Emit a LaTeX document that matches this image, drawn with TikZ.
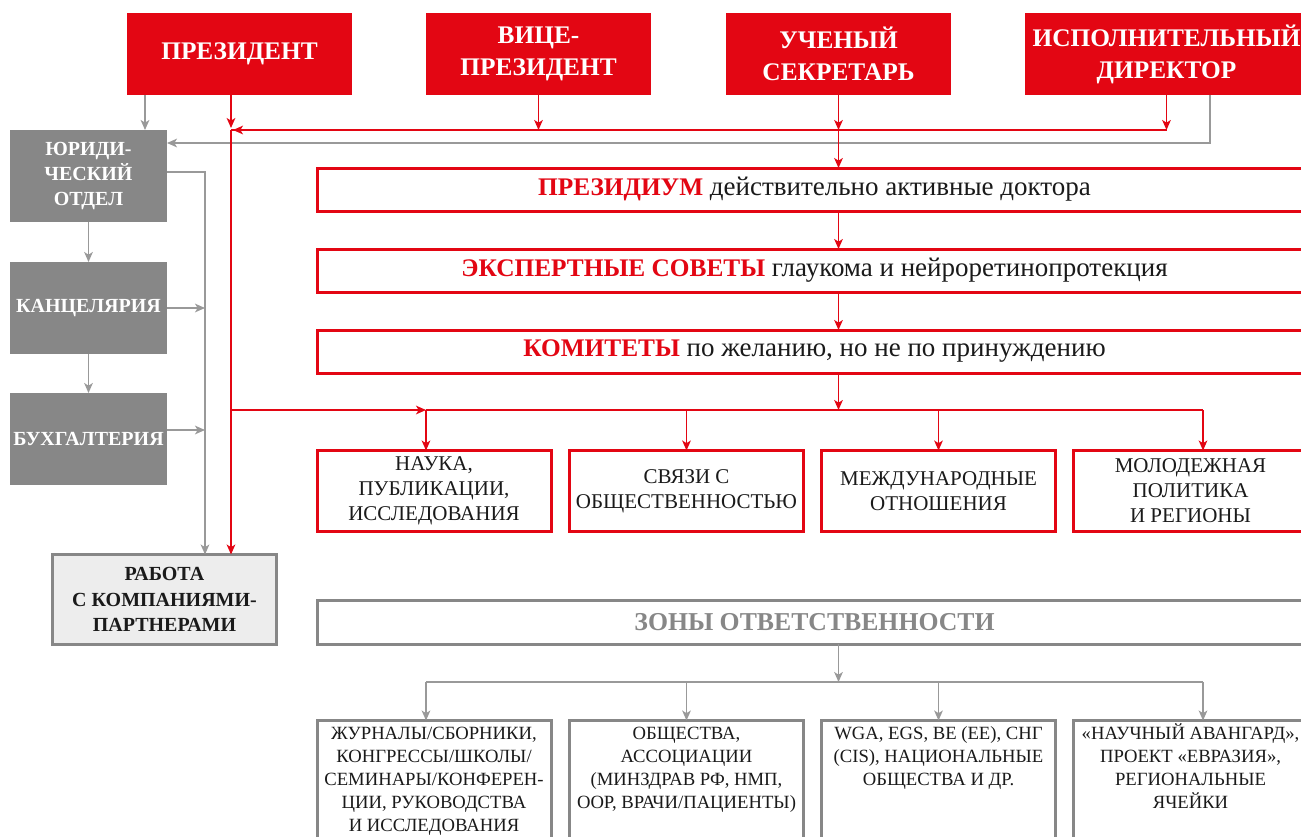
\documentclass[tikz,border=0pt]{standalone}
\usepackage{fontspec}
\setmainfont{Liberation Serif}
\usetikzlibrary{arrows.meta}
\definecolor{cred}{HTML}{E30613}
\definecolor{cgray}{HTML}{878787}
\definecolor{cline}{HTML}{999999}
\definecolor{clight}{HTML}{EDEDED}
\definecolor{ctext}{HTML}{1A1A1A}
\newcommand\fl{\rule{0pt}{14pt}}
\newcommand\hl[1]{{\color{cred}\fontsize{19}{24}\selectfont\bfseries #1}}
\begin{document}
\begin{tikzpicture}[x=0.75pt,y=-0.75pt,
  every node/.style={inner sep=0pt, outer sep=0pt, align=center},
  topbox/.style={fill=cred, text=white, font=\fontsize{19}{24}\selectfont\bfseries, minimum height=61.5pt},
  graybox/.style={fill=cgray, text=white, font=\fontsize{15}{19}\selectfont\bfseries, minimum width=117.75pt, minimum height=69pt},
  rabbox/.style={fill=clight, draw=cgray, line width=2.25pt, text=ctext, font=\fontsize{15}{19}\selectfont\bfseries, minimum width=168pt, minimum height=67.5pt},
  widebox/.style={draw=cred, line width=2.25pt, fill=white, text=ctext, font=\fontsize{20.25}{24}\selectfont, minimum width=746pt, minimum height=32.25pt},
  zonybox/.style={draw=cgray, line width=2.25pt, fill=white, text=cgray, font=\fontsize{19.3}{24}\selectfont\bfseries, minimum width=746pt, minimum height=33pt},
  redbox/.style={draw=cred, line width=2.25pt, fill=white, text=ctext, font=\fontsize{15.75}{18.75}\selectfont, minimum width=175.5pt, minimum height=60.75pt},
  gbot/.style={draw=cgray, line width=2.25pt, fill=white, text=ctext, anchor=north, font=\fontsize{14}{17.25}\selectfont},
  rline/.style={draw=cred, line width=1.1pt},
  rarr/.style={rline, -{Stealth[length=7.5pt,width=6.5pt,inset=2pt]}},
  gline/.style={draw=cline, line width=1.1pt},
  garr/.style={gline, -{Stealth[length=7.5pt,width=6.5pt,inset=2pt]}}
]
\useasboundingbox (0,0) rectangle (1301,836);
\clip (0,0) rectangle (1301,836);

% top boxes
\node[topbox, minimum width=168.75pt] (pres) at (239.5,54) {ПРЕЗИДЕНТ};
\node[topbox, minimum width=168.75pt] (vice) at (538.5,54) {ВИЦЕ-\\ПРЕЗИДЕНТ};
\node[topbox, minimum width=168.75pt] (sec) at (838.5,54) {УЧЕНЫЙ\\СЕКРЕТАРЬ};
\node[topbox, minimum width=212.25pt] (dir) at (1166.5,54) {ИСПОЛНИТЕЛЬНЫЙ\\ДИРЕКТОР};

% left gray boxes
\node[graybox] (yur) at (88.5,176) {ЮРИДИ-\\ЧЕСКИЙ\\ОТДЕЛ};
\node[graybox] (kanc) at (88.5,308) {КАНЦЕЛЯРИЯ};
\node[graybox] (buh) at (88.5,439) {БУХГАЛТЕРИЯ};
\node[rabbox] (rab) at (164.5,599.5) {РАБОТА\\С КОМПАНИЯМИ-\\ПАРТНЕРАМИ};

% wide boxes
\node[widebox] (prez) at (814.5,189.5) {\hl{ПРЕЗИДИУМ} действительно активные доктора};
\node[widebox] (exp) at (814.5,270.5) {\hl{ЭКСПЕРТНЫЕ СОВЕТЫ} глаукома и нейроретинопротекция};
\node[widebox] (kom) at (814.5,351.5) {\hl{КОМИТЕТЫ} по желанию, но не по принуждению};

% red bottom boxes
\node[redbox] (nauka) at (434,491) {НАУКА,\\ПУБЛИКАЦИИ,\\ИССЛЕДОВАНИЯ};
\node[redbox] (svyazi) at (686.5,491) {СВЯЗИ С\\ОБЩЕСТВЕННОСТЬЮ};
\node[redbox] (mezhd) at (938.5,491) {МЕЖДУНАРОДНЫЕ\\ОТНОШЕНИЯ};
\node[redbox] (molod) at (1190.5,491) {МОЛОДЕЖНАЯ\\ПОЛИТИКА\\И РЕГИОНЫ};

% zones
\node[zonybox] (zony) at (814.5,622) {ЗОНЫ ОТВЕТСТВЕННОСТИ};

% gray bottom boxes
\node[gbot] (zh) at (434,720.5) {\parbox[t][140pt][t]{175.5pt}{\centering\fl ЖУРНАЛЫ/СБОРНИКИ,\\КОНГРЕССЫ/ШКОЛЫ/\\СЕМИНАРЫ/КОНФЕРЕН-\\ЦИИ, РУКОВОДСТВА\\И ИССЛЕДОВАНИЯ}};
\node[gbot] (obsh) at (686.5,720.5) {\parbox[t][140pt][t]{175.5pt}{\centering\fl ОБЩЕСТВА,\\АССОЦИАЦИИ\\(МИНЗДРАВ РФ, НМП,\\ООР, ВРАЧИ/ПАЦИЕНТЫ)}};
\node[gbot] (wga) at (938.5,720.5) {\parbox[t][140pt][t]{175.5pt}{\centering\fl WGA, EGS, ВЕ (EE), СНГ\\(CIS), НАЦИОНАЛЬНЫЕ\\ОБЩЕСТВА И ДР.}};
\node[gbot] (nauch) at (1190.5,720.5) {\parbox[t][140pt][t]{175.5pt}{\centering\fl «НАУЧНЫЙ АВАНГАРД»,\\ПРОЕКТ «ЕВРАЗИЯ»,\\РЕГИОНАЛЬНЫЕ\\ЯЧЕЙКИ}};

% coordinates
\coordinate (xa) at (145,0);
\coordinate (xp) at (231,0);
\coordinate (jA) at (231,130);
\coordinate (jD) at (1166.5,130);
\coordinate (xg) at (1210,0);
\coordinate (jG) at (1210,143);
\coordinate (xr) at (205,0);
\coordinate (yy) at (0,172);
\coordinate (yb) at (0,430);
\coordinate (jK) at (838.5,410);
\coordinate (jL) at (231,410);
\coordinate (h1) at (426,410);
\coordinate (h2) at (686.5,410);
\coordinate (h3) at (938.5,410);
\coordinate (h4) at (1203,410);
\coordinate (g0) at (838.5,682);
\coordinate (g1) at (426,682);
\coordinate (g2) at (686.5,682);
\coordinate (g3) at (938.5,682);
\coordinate (g4) at (1203,682);

% gray connectors
\draw[garr] (pres.south -| xa) -- (yur.north -| xa);
\draw[garr] (dir.south -| xg) -- (jG) -- (yur.east |- jG);
\draw[garr] (yur.east |- yy) -| (rab.north -| xr);
\draw[garr] (kanc.east) -- (kanc.east -| xr);
\draw[garr] (buh.east |- yb) -- (xr |- yb);
\draw[garr] (yur.south) -- (kanc.north);
\draw[garr] (kanc.south) -- (buh.north);

% red connectors top
\draw[rline] (jD) -- (jA);
\draw[rarr] (jD) -- ([xshift=1.5pt]jA);
\draw[rarr] (pres.south -| xp) -- ([yshift=1.5pt]jA);
\draw[rarr] (jA) -- (rab.north -| xp);
\draw[rarr] (vice.south) -- (vice.south |- jA);
\draw[rarr] (sec.south) -- (sec.south |- jA);
\draw[rarr] (sec.south |- jA) -- (prez.north -| sec.south);
\draw[rarr] (dir.south) -- (jD);
\draw[rarr] (prez.south -| sec.south) -- (exp.north -| sec.south);
\draw[rarr] (exp.south -| sec.south) -- (kom.north -| sec.south);
\draw[rarr] (kom.south -| sec.south) -- (jK);
\draw[rarr] (jL) -- (h1);
\draw[rline] (h1) -- (h4);
\draw[rarr] (h1) -- (nauka.north -| h1);
\draw[rarr] (h2) -- (svyazi.north);
\draw[rarr] (h3) -- (mezhd.north);
\draw[rarr] (h4) -- (molod.north -| h4);

% gray connectors bottom
\draw[garr] (zony.south -| g0) -- (g0);
\draw[gline] (g1) -- (g4);
\draw[garr] (g1) -- (zh.north -| g1);
\draw[garr] (g2) -- (obsh.north);
\draw[garr] (g3) -- (wga.north);
\draw[garr] (g4) -- (nauch.north -| g4);
\end{tikzpicture}
\end{document}
